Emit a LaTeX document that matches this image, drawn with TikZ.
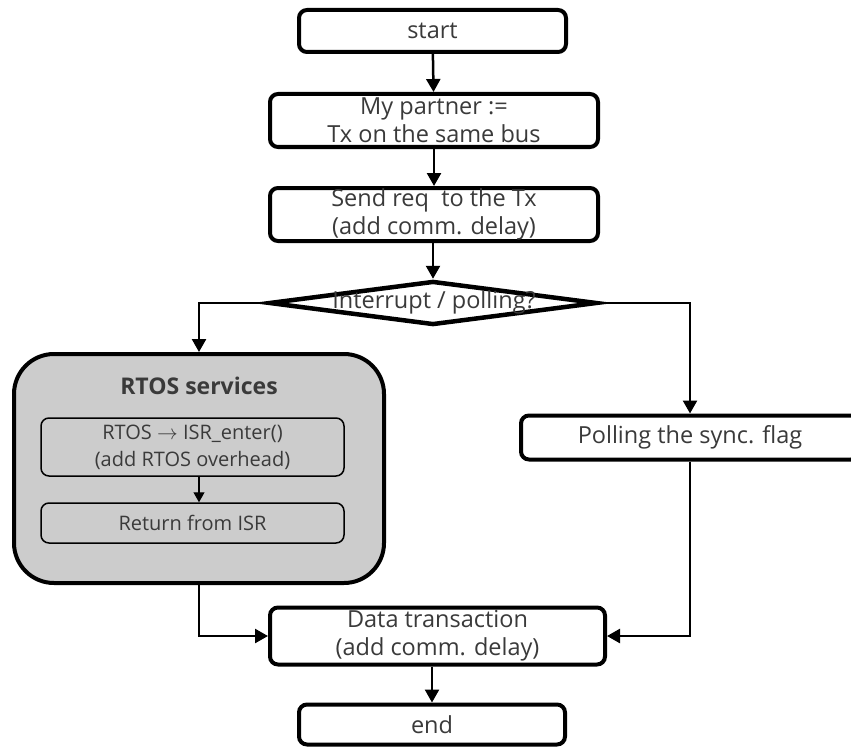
\documentclass[tikz,border=0pt]{standalone}
\usepackage{fontspec}
\setmainfont{Open Sans}
\usetikzlibrary{arrows.meta,shapes.geometric}
\definecolor{txt}{HTML}{3A3A3A}
\definecolor{panel}{HTML}{CCCCCC}
\tikzset{
  stepbox/.style={draw, line width=4pt, rounded corners=8pt, fill=white, text=txt,
    align=center, font=\fontsize{23.5}{28}\selectfont, inner sep=0pt},
  decision/.style={draw, diamond, line width=4.5pt, inner sep=0pt, fill=white},
  panelbox/.style={draw, line width=4pt, rounded corners=40pt, fill=panel, inner sep=0pt},
  subbox/.style={draw, line width=1.5pt, rounded corners=8pt, fill=panel, text=txt,
    align=center, font=\fontsize{20}{27}\selectfont, inner sep=0pt},
  flow/.style={line width=2.5pt, -{Triangle[length=13pt,width=14pt]}},
  thinflow/.style={line width=1.2pt, -{Triangle[length=10pt,width=11pt]}},
}
\begin{document}
\begin{tikzpicture}[x=1pt,y=-1pt]
\useasboundingbox (0,0) rectangle (851,749);

% main chain
\node[stepbox, minimum width=267pt, minimum height=42pt] (start) at (432.5,31) {start};
\node[stepbox, minimum width=328pt, minimum height=53pt] (partner) at (434,120.5) {My partner :=\\Tx on the same bus};
\node[stepbox, minimum width=328pt, minimum height=53pt] (send) at (434,214.5) {Send req~ to the Tx\\(add comm. delay)};
\node[decision, minimum width=328pt, minimum height=44pt] (dec) at (433,303) {};
\node[text=txt, font=\fontsize{23.5}{28}\selectfont] (declabel) at (434,302) {Interrupt / polling?};

% interrupt branch: RTOS services
\node[panelbox, minimum width=370pt, minimum height=229pt] (rtos) at (199,468.5) {};
\node[text=txt, font=\fontsize{23}{28}\selectfont\bfseries] (rtostitle) at (199,386) {RTOS services};
\node[subbox, minimum width=303pt, minimum height=58pt] (isr) at (192.5,447) {RTOS $\rightarrow$ ISR\_enter()\\(add RTOS overhead)};
\node[subbox, minimum width=303pt, minimum height=40pt] (ret) at (192.5,523) {Return from ISR};

% polling branch
\node[stepbox, minimum width=338pt, minimum height=44pt] (poll) at (690,437.5) {Polling the sync. flag};

% joining steps
\node[stepbox, minimum width=335pt, minimum height=57pt] (data) at (437.5,636) {Data transaction\\(add comm. delay)};
\node[stepbox, minimum width=266pt, minimum height=40pt] (end) at (432,724.5) {end};

% connectors
\draw[flow] (start) -- (partner);
\draw[flow] (partner) -- (send);
\draw[flow] (send.south -| dec.north) -- (dec.north);
\draw[flow] (dec.west) -| (rtos.north);
\draw[flow] (dec.east) -| (poll.north);
\draw[thinflow] (isr.south -| rtos.north) -- (ret.north -| rtos.north);
\draw[flow] (rtos.south) |- (data.west);
\draw[flow] (poll.south) |- (data.east);
\draw[flow] (data.south -| end.north) -- (end.north);
\end{tikzpicture}
\end{document}
